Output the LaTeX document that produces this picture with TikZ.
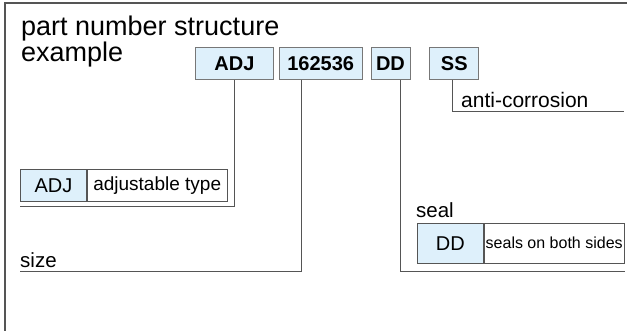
\documentclass[tikz,border=0pt]{standalone}
\usepackage{fontspec}
\setmainfont{Liberation Sans}
\usetikzlibrary{positioning}
\definecolor{cellblue}{RGB}{222,240,251}
\definecolor{linegray}{RGB}{85,85,85}

\begin{document}
\begin{tikzpicture}[x=1pt, y=-1pt,
  codebox/.style={rectangle, draw=linegray!80, fill=cellblue, line width=0.8pt,
    minimum height=32pt, inner sep=0pt, font=\fontsize{20}{20}\selectfont\bfseries},
  keycell/.style={rectangle, draw=linegray, fill=cellblue, line width=0.8pt,
    minimum width=66pt, inner sep=0pt, font=\fontsize{20}{20}\selectfont},
  desccell/.style={rectangle, draw=linegray, fill=white, line width=0.8pt,
    minimum width=140pt, inner sep=0pt},
  lbl/.style={anchor=base west, inner sep=0pt, font=\fontsize{20.5}{20.5}\selectfont},
  lead/.style={draw=linegray, line width=0.9pt}
]
  \useasboundingbox (0,0) rectangle (627,331);
  % frame, open on the right and at the bottom
  \draw[linegray, line width=1.2pt] (627,3) -- (5,3) -- (5,331);

  % title
  \node[lbl, font=\fontsize{27}{27}\selectfont] (title) at (21,36) {part number structure};
  \node[lbl, font=\fontsize{27}{27}\selectfont] (title2) at (21,62) {example};

  % part number boxes
  \node[codebox, minimum width=78pt, anchor=north west] (adj) at (195,47) {ADJ};
  \node[codebox, minimum width=83pt, right=5pt of adj]  (num) {162536};
  \node[codebox, minimum width=39pt, right=8pt of num]  (dd)  {DD};
  \node[codebox, minimum width=49pt, right=19pt of dd]  (ss)  {SS};

  % adjustable type
  \node[keycell, minimum height=32pt, anchor=north west] (adjkey) at (20,169) {ADJ};
  \node[desccell, minimum height=32pt, right=0pt of adjkey, font=\fontsize{19}{19}\selectfont]
    (adjdesc) {\raisebox{4pt}{adjustable type}};
  \coordinate (adjend) at (20,206);
  \draw[lead] (adj.south) |- (adjend);

  % size
  \node[lbl] (size) at (20,268) {size};
  \coordinate (sizeend) at (20,271);
  \draw[lead] ([xshift=-19.5pt]num.south) |- (sizeend);

  % seal
  \node[lbl] (seal) at (416,218) {seal};
  \node[keycell, minimum height=40pt, anchor=north west] (ddkey) at (417,223) {DD};
  \node[desccell, minimum height=40pt, right=0pt of ddkey, font=\fontsize{16}{16}\selectfont]
    (dddesc) {\raisebox{2pt}{seals on both sides}};
  \coordinate (sealend) at (625,271);
  \draw[lead] ([xshift=9.5pt]dd.south) |- (sealend);

  % anti-corrosion
  \node[lbl, font=\fontsize{21}{21}\selectfont] (anti) at (461,108) {anti-corrosion};
  \coordinate (antiend) at (624,111);
  \draw[lead] ([xshift=-1.5pt]ss.south) |- (antiend);
\end{tikzpicture}
\end{document}
